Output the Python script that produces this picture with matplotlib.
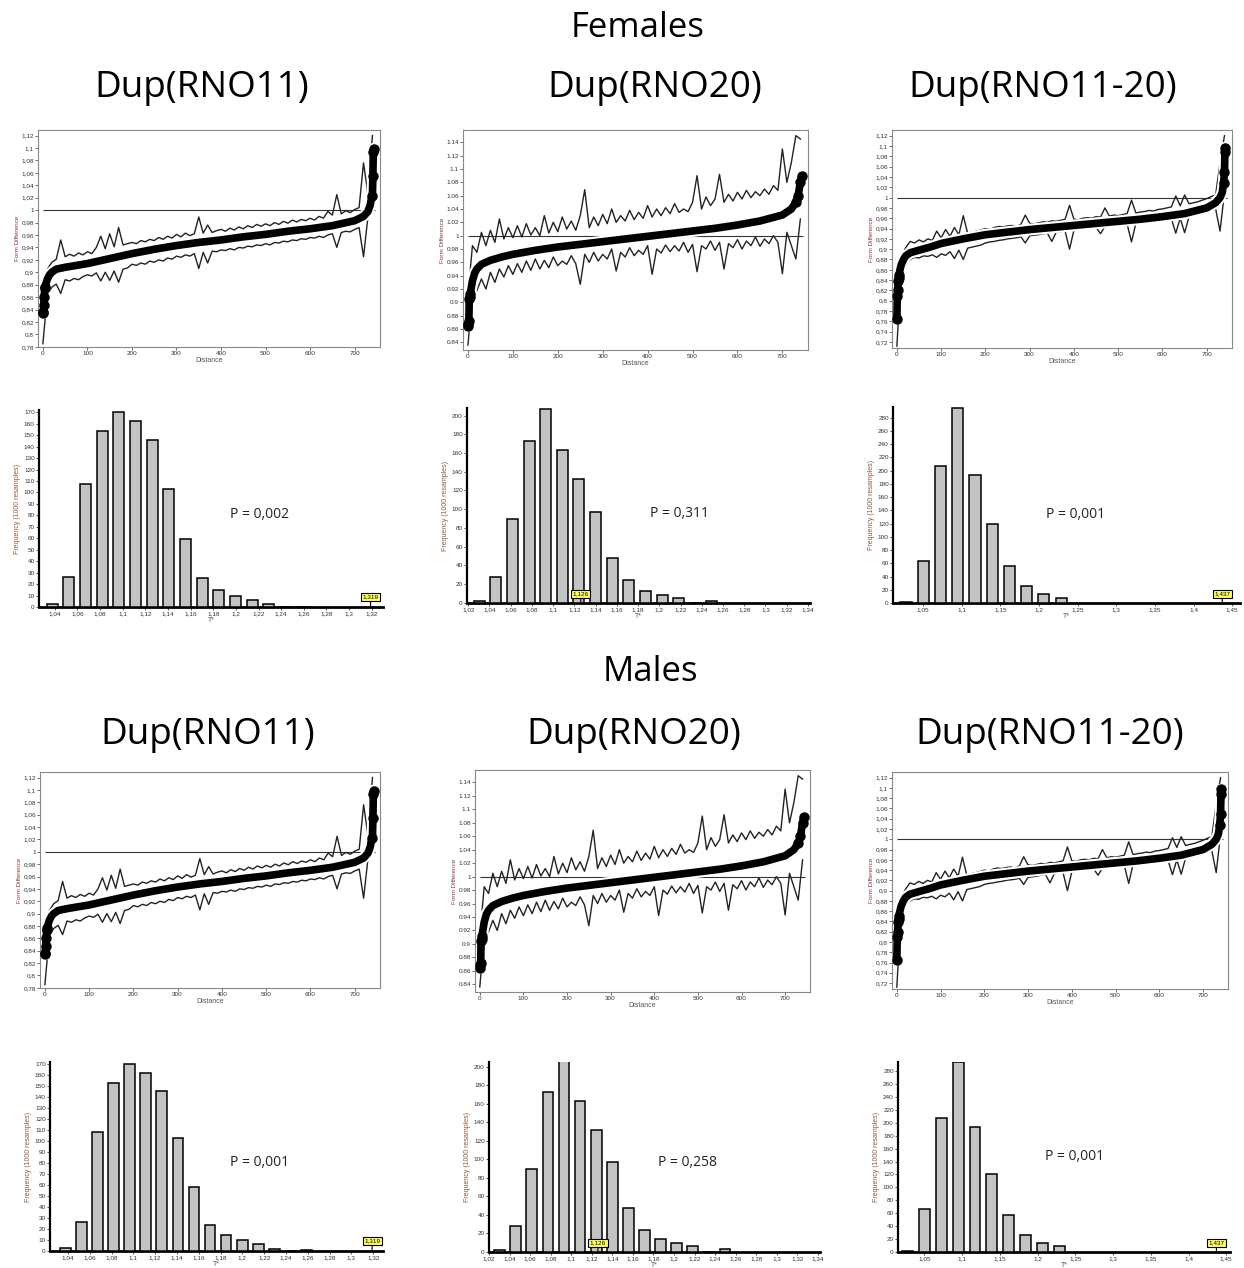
import numpy as np
import matplotlib
matplotlib.use('Agg')
import matplotlib.pyplot as plt
from matplotlib.ticker import FuncFormatter, MultipleLocator

# ---------------- data ----------------
band_x = list(range(0, 750, 10))

# Dup(RNO11) form-difference panel
cA_x = [0, 1, 2, 3, 4, 5, 7, 10, 15, 20, 30, 50, 75, 100, 150, 200, 250, 300, 350, 400, 450, 500, 550,
        600, 650, 700, 720, 730, 735, 738, 740, 741, 742, 743]
cA_y = [0.834, 0.836, 0.848, 0.86, 0.874, 0.877, 0.882, 0.889, 0.896, 0.900, 0.905, 0.908, 0.911, 0.914,
        0.922, 0.930, 0.937, 0.943, 0.948, 0.952, 0.957, 0.961, 0.966, 0.970, 0.975, 0.983, 0.990, 0.998,
        1.008, 1.02, 1.023, 1.055, 1.093, 1.099]
upA = [860, 905, 916, 921, 952, 925, 929, 926, 931, 928, 933, 930, 940, 958, 938, 962, 941, 972, 944, 946,
       948, 946, 951, 949, 953, 951, 956, 953, 958, 955, 961, 957, 963, 959, 962, 989, 963, 976, 964, 967,
       969, 966, 971, 968, 973, 970, 975, 972, 977, 974, 978, 975, 980, 977, 982, 979, 984, 981, 985, 983,
       987, 984, 990, 987, 998, 992, 1025, 994, 999, 996, 1001, 1004, 1076, 1025, 1120]
loA = [785, 864, 876, 881, 866, 888, 886, 890, 888, 893, 896, 894, 899, 886, 900, 887, 902, 884, 905, 907,
       913, 911, 915, 913, 918, 916, 920, 918, 923, 921, 926, 924, 928, 926, 930, 906, 932, 915, 934, 933,
       936, 935, 938, 936, 940, 939, 942, 941, 944, 943, 946, 944, 948, 947, 950, 949, 952, 951, 954, 953,
       956, 955, 958, 956, 960, 962, 940, 964, 966, 965, 969, 972, 925, 990, 1000]

# Dup(RNO20) form-difference panel
cB_x = [0, 1, 2, 3, 4, 5, 7, 10, 15, 20, 30, 50, 75, 100, 150, 200, 250, 300, 350, 400, 450, 500, 550,
        600, 650, 700, 720, 730, 735, 740, 743]
cB_y = [0.864, 0.868, 0.872, 0.905, 0.908, 0.912, 0.92, 0.932, 0.944, 0.950, 0.957, 0.963, 0.968, 0.972,
        0.978, 0.983, 0.987, 0.991, 0.995, 0.999, 1.003, 1.007, 1.011, 1.016, 1.022, 1.031, 1.040, 1.050,
        1.060, 1.080, 1.089]
upB = [910, 985, 975, 1005, 985, 1008, 990, 1025, 995, 1012, 997, 1015, 998, 1018, 1001, 1012, 1000, 1030,
       1004, 1020, 1006, 1028, 1010, 1022, 1008, 1030, 1069, 1012, 1028, 1015, 1032, 1018, 1040, 1020, 1030,
       1022, 1038, 1024, 1035, 1026, 1045, 1028, 1040, 1030, 1042, 1033, 1048, 1035, 1040, 1036, 1050, 1090,
       1040, 1058, 1045, 1055, 1092, 1050, 1062, 1052, 1065, 1055, 1068, 1057, 1066, 1060, 1070, 1062, 1075,
       1068, 1130, 1080, 1110, 1150, 1145]
loB = [836, 912, 918, 935, 920, 945, 930, 950, 938, 955, 942, 958, 945, 962, 948, 965, 950, 963, 952, 968,
       955, 962, 957, 970, 958, 927, 972, 960, 975, 962, 972, 965, 980, 947, 975, 968, 982, 970, 978, 972,
       985, 942, 980, 974, 986, 976, 985, 977, 990, 975, 987, 946, 985, 980, 992, 978, 990, 950, 988, 982,
       994, 980, 992, 985, 998, 984, 995, 988, 1000, 990, 943, 1005, 985, 965, 1025]

# Dup(RNO11-20) form-difference panel
cC_x = [0, 1, 2, 3, 4, 5, 7, 10, 15, 20, 30, 50, 75, 100, 150, 200, 250, 300, 350, 400, 450, 500, 550,
        600, 650, 700, 720, 730, 735, 738, 740, 741, 742]
cC_y = [0.765, 0.81, 0.82, 0.838, 0.845, 0.85, 0.86, 0.87, 0.88, 0.887, 0.893, 0.898, 0.904, 0.911, 0.920,
        0.928, 0.933, 0.938, 0.942, 0.946, 0.950, 0.954, 0.958, 0.963, 0.969, 0.980, 0.990, 1.000, 1.010,
        1.028, 1.050, 1.088, 1.097]
upC = [850, 885, 903, 915, 912, 918, 914, 920, 917, 935, 922, 938, 925, 942, 928, 965, 930, 933, 935, 937,
       940, 938, 942, 944, 943, 945, 946, 944, 948, 966, 950, 949, 951, 953, 952, 955, 954, 956, 958, 985,
       958, 957, 960, 961, 960, 963, 962, 980, 964, 966, 965, 967, 969, 995, 970, 972, 973, 975, 974, 977,
       978, 980, 982, 1003, 984, 1005, 988, 990, 992, 995, 998, 1002, 1005, 1068, 1120]
loC = [712, 860, 872, 880, 884, 883, 887, 886, 889, 884, 891, 888, 895, 882, 898, 880, 902, 904, 906, 908,
       912, 914, 915, 917, 918, 920, 921, 922, 924, 912, 926, 927, 928, 930, 931, 915, 933, 934, 935, 900,
       937, 938, 939, 940, 941, 942, 930, 944, 945, 946, 947, 948, 949, 914, 951, 952, 953, 954, 955, 956,
       957, 958, 959, 931, 960, 932, 963, 965, 967, 970, 973, 975, 978, 935, 1010]

# Histograms of T* (1000 resamples)
hA_centers = [1.0376, 1.0523, 1.0671, 1.0818, 1.0966, 1.1113, 1.1260, 1.1408, 1.1555, 1.1703, 1.1850,
              1.1998, 1.2145, 1.2292, 1.2440, 1.2587]
hA_fem = [3, 26, 107, 154, 170, 162, 146, 103, 59, 25, 15, 10, 6, 3, 0, 0]
hA_mal = [3, 26, 108, 153, 170, 162, 146, 103, 58, 24, 15, 10, 6, 2, 0, 1]
hB_centers = [1.0303, 1.0459, 1.0616, 1.0773, 1.0929, 1.1086, 1.1243, 1.1399, 1.1556, 1.1713, 1.1869,
              1.2026, 1.2183, 1.2339, 1.2496]
hB_fem = [2, 28, 90, 173, 207, 163, 132, 97, 48, 24, 13, 9, 5, 0, 2]
hB_mal = [2, 28, 90, 173, 207, 163, 132, 97, 48, 24, 14, 10, 6, 0, 3]
hC_centers = [1.0279, 1.0502, 1.0725, 1.0948, 1.1171, 1.1394, 1.1617, 1.1840, 1.2063, 1.2286]
hC_fem = [2, 64, 207, 294, 194, 119, 56, 26, 14, 7]
hC_mal = [2, 66, 208, 294, 194, 120, 58, 27, 14, 9]

observed = [1.319, 1.126, 1.437]
p_fem = ["P = 0,002", "P = 0,311", "P = 0,001"]
p_mal = ["P = 0,001", "P = 0,258", "P = 0,001"]
panel_titles = ["Dup(RNO11)", "Dup(RNO20)", "Dup(RNO11-20)"]

# ---------------- figure ----------------
W, H = 1244, 1268
fig = plt.figure(figsize=(W / 100, H / 100), dpi=100)
TITLE_FONT = ['Open Sans', 'DejaVu Sans']
SMALL_FONT = ['Liberation Sans', 'DejaVu Sans']


def rect(l, r, t, b):
    return [l / W, 1 - b / H, (r - l) / W, (b - t) / H]


def fmt(sep):
    return FuncFormatter(lambda v, p: f"{round(v, 4):g}".replace('.', sep))


def line_panel(box, cx, cy, up, lo, ylim, yticks, sep):
    ax = fig.add_axes(rect(*box))
    ux = band_x
    ax.plot(ux, np.array(up) / 1000, color='#222222', lw=1.0, zorder=2)
    ax.plot(ux, np.array(lo) / 1000, color='#222222', lw=1.0, zorder=2)
    ax.hlines(1.0, 0, 745, color='#333333', lw=0.8, zorder=1)
    # thick centre band of overlapping points, with a white halo
    ax.plot(cx, cy, color='white', lw=8.5, zorder=2.5, solid_capstyle='round', solid_joinstyle='round')
    ax.plot(cx, cy, color='black', lw=5.5, zorder=3, solid_capstyle='round', solid_joinstyle='round')
    ends_x = cx[:6] + cx[-4:]
    ends_y = cy[:6] + cy[-4:]
    ax.plot(ends_x, ends_y, 'o', ls='none', color='black', ms=6.5, zorder=3.5)
    ax.set_xlim(-11, 757)
    ax.set_ylim(*ylim)
    ax.set_xticks(range(0, 800, 100))
    ax.set_yticks(yticks)
    ax.yaxis.set_major_formatter(fmt(sep))
    ax.tick_params(labelsize=4.6, length=2, width=0.5, pad=1, colors='#333333')
    for lab in ax.get_xticklabels() + ax.get_yticklabels():
        lab.set_family(SMALL_FONT)
    for s in ax.spines.values():
        s.set_color('#888888')
        s.set_linewidth(0.8)
    ax.set_xlabel('Distance', fontsize=5, color='#555555', labelpad=0.5, family=SMALL_FONT)
    ax.set_ylabel('Form Difference', fontsize=4.6, color='#8b3a3a', labelpad=1, family=SMALL_FONT)
    return ax


def hist_panel(box, centers, counts, width, xlim, ylim, xticks, ystep, obs, obs_y, ptext, ppos):
    ax = fig.add_axes(rect(*box))
    ax.bar(centers, counts, width=width, color='#c3c3c3', edgecolor='black', linewidth=1.1, zorder=3)
    ax.set_xlim(*xlim)
    ax.set_ylim(*ylim)
    ax.set_xticks(xticks)
    ax.yaxis.set_major_locator(MultipleLocator(ystep))
    ax.xaxis.set_major_formatter(fmt(','))
    ax.yaxis.set_major_formatter(fmt(','))
    ax.spines['top'].set_visible(False)
    ax.spines['right'].set_visible(False)
    ax.spines['left'].set_linewidth(1.6)
    ax.spines['bottom'].set_linewidth(2.0)
    ax.spines['left'].set_linestyle((0, (2, 1)))
    ax.tick_params(labelsize=4.6, length=2, width=0.6, pad=1, colors='#333333')
    for lab in ax.get_xticklabels() + ax.get_yticklabels():
        lab.set_family(SMALL_FONT)
    ax.set_xlabel('T*', fontsize=5, color='#555555', labelpad=0.5, family=SMALL_FONT)
    ax.set_ylabel('Frequency (1000 resamples)', fontsize=5, color='#8b5a3a', labelpad=2,
                  family=SMALL_FONT)
    ax.annotate(f"{obs:g}".replace('.', ','), xy=(obs, 0), xytext=(obs, obs_y),
                ha='center', va='center', fontsize=4.6, family=SMALL_FONT, zorder=5,
                bbox=dict(boxstyle='square,pad=0.25', fc='#ffff66', ec='black', lw=0.8),
                arrowprops=dict(arrowstyle='-', lw=0.8, color='black', shrinkA=0, shrinkB=0))
    fig.text(ppos[0] / W, 1 - ppos[1] / H, ptext, ha='center', va='center', fontsize=10,
             family=TITLE_FONT, color='#222222')
    return ax


# titles
fig.text(638 / W, 1 - 28 / H, 'Females', ha='center', va='center', fontsize=25, family=TITLE_FONT)
fig.text(650 / W, 1 - 672 / H, 'Males', ha='center', va='center', fontsize=25, family=TITLE_FONT)
for t, xc in zip(panel_titles, [202, 655, 1043]):
    fig.text(xc / W, 1 - 88 / H, t, ha='center', va='center', fontsize=26.5, family=TITLE_FONT)
for t, xc in zip(panel_titles, [208, 634, 1050]):
    fig.text(xc / W, 1 - 735 / H, t, ha='center', va='center', fontsize=26.5, family=TITLE_FONT)

ytA = [round(0.78 + 0.02 * i, 2) for i in range(18)]
ytB = [round(0.84 + 0.02 * i, 2) for i in range(16)]
ytC = [round(0.72 + 0.02 * i, 2) for i in range(21)]

# female line panels
line_panel((38, 380, 130, 347), cA_x, cA_y, upA, loA, (0.7797, 1.129), ytA, ',')
line_panel((463, 808, 130, 350), cB_x, cB_y, upB, loB, (0.8285, 1.1585), ytB, '.')
line_panel((892, 1232, 130, 348), cC_x, cC_y, upC, loC, (0.7084, 1.131), ytC, ',')
# male line panels
line_panel((40, 380, 772, 988), cA_x, cA_y, upA, loA, (0.7797, 1.129), ytA, ',')
line_panel((475, 810, 770, 992), cB_x, cB_y, upB, loB, (0.8285, 1.1585), ytB, '.')
line_panel((892, 1228, 772, 989), cC_x, cC_y, upC, loC, (0.7084, 1.131), ytC, ',')

xtA = [round(1.04 + 0.02 * i, 2) for i in range(15)]
xtB = [round(1.02 + 0.02 * i, 2) for i in range(17)]
xtC = [round(1.05 + 0.05 * i, 2) for i in range(9)]

# female histograms
hist_panel((39, 383, 410, 607), hA_centers, hA_fem, 0.0098, (1.026, 1.330), (0, 172), xtA, 10,
           observed[0], 8.7, p_fem[0], (260, 515))
hist_panel((467, 810, 408, 603), hB_centers, hB_fem, 0.0104, (1.0188, 1.342), (0, 208), xtB, 20,
           observed[1], 9.6, p_fem[1], (680, 514))
hist_panel((893, 1240, 407, 603), hC_centers, hC_fem, 0.0144, (1.011, 1.46), (0, 296), xtC, 20,
           observed[2], 13.6, p_fem[2], (1076, 515))
# male histograms
hist_panel((50, 383, 1062, 1251), hA_centers, hA_mal, 0.0098, (1.0235, 1.329), (0, 172), xtA, 10,
           observed[0], 9.0, p_mal[0], (260, 1163))
hist_panel((489, 820, 1062, 1252), hB_centers, hB_mal, 0.0104, (1.0225, 1.342), (0, 205), xtB, 20,
           observed[1], 10.0, p_mal[1], (688, 1163))
hist_panel((898, 1230, 1062, 1252), hC_centers, hC_mal, 0.0144, (1.015, 1.455), (0, 294), xtC, 20,
           observed[2], 14.0, p_mal[2], (1075, 1156))

fig.savefig('out.png', dpi=100, facecolor='white')
